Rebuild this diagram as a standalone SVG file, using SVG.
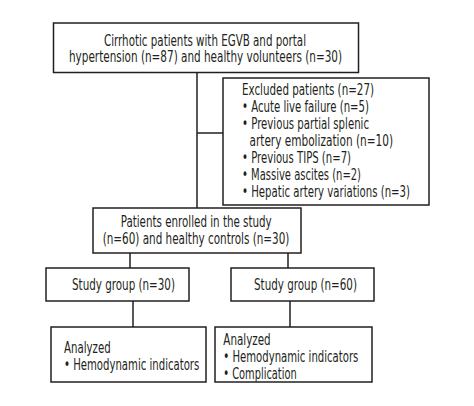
<svg xmlns="http://www.w3.org/2000/svg" width="474" height="406" viewBox="0 0 474 406">
<style>
.box{fill:#fff;stroke:#231f20;stroke-width:1.5}
.ln{fill:none;stroke:#231f20;stroke-width:1.5}
text{font-family:"Liberation Sans Narrow","DejaVu Sans Condensed","Liberation Sans",sans-serif;font-size:15.5px;fill:#231f20}
</style>
<rect width="474" height="406" fill="#fff"/>
<g id="connectors">
<path class="ln" d="M197 72.5V208"/>
<path class="ln" d="M197 133H223"/>
<path class="ln" d="M130 253V268"/>
<path class="ln" d="M288 253V268"/>
<path class="ln" d="M133 301V327"/>
<path class="ln" d="M290 301V327"/>
</g>
<g id="top">
<rect class="box" x="53.5" y="23" width="305" height="49.5"/>
<text x="104" y="45.5" textLength="202" lengthAdjust="spacingAndGlyphs">Cirrhotic patients with EGVB and portal</text>
<text x="69" y="62" textLength="273" lengthAdjust="spacingAndGlyphs">hypertension (n=87) and healthy volunteers (n=30)</text>
</g>
<g id="excluded">
<rect class="box" x="223" y="78" width="206" height="127"/>
<text x="242" y="95" textLength="132" lengthAdjust="spacingAndGlyphs">Excluded patients (n=27)</text>
<text x="242" y="112" textLength="127" lengthAdjust="spacingAndGlyphs">• Acute live failure (n=5)</text>
<text x="242" y="129" textLength="127" lengthAdjust="spacingAndGlyphs">• Previous partial splenic</text>
<text x="249.5" y="146" textLength="143.5" lengthAdjust="spacingAndGlyphs">artery embolization (n=10)</text>
<text x="242" y="163" textLength="109" lengthAdjust="spacingAndGlyphs">• Previous TIPS (n=7)</text>
<text x="242" y="180" textLength="119" lengthAdjust="spacingAndGlyphs">• Massive ascites (n=2)</text>
<text x="242" y="197" textLength="168" lengthAdjust="spacingAndGlyphs">• Hepatic artery variations (n=3)</text>
</g>
<g id="enrolled">
<rect class="box" x="93" y="208" width="208" height="45"/>
<text x="120.7" y="227" textLength="151" lengthAdjust="spacingAndGlyphs">Patients enrolled in the study</text>
<text x="102.7" y="243.5" textLength="186.7" lengthAdjust="spacingAndGlyphs">(n=60) and healthy controls (n=30)</text>
</g>
<g id="study30">
<rect class="box" x="46" y="268" width="143" height="33"/>
<text x="72" y="290" textLength="103" lengthAdjust="spacingAndGlyphs">Study group (n=30)</text>
</g>
<g id="study60">
<rect class="box" x="231" y="268" width="143" height="33"/>
<text x="254" y="290" textLength="103" lengthAdjust="spacingAndGlyphs">Study group (n=60)</text>
</g>
<g id="analyzed30">
<rect class="box" x="51" y="327" width="155" height="55"/>
<text x="64" y="353" textLength="46.7" lengthAdjust="spacingAndGlyphs">Analyzed</text>
<text x="64" y="370" textLength="135.3" lengthAdjust="spacingAndGlyphs">• Hemodynamic indicators</text>
</g>
<g id="analyzed60">
<rect class="box" x="215" y="327" width="157" height="55"/>
<text x="223.3" y="344.5" textLength="47.4" lengthAdjust="spacingAndGlyphs">Analyzed</text>
<text x="223.3" y="361.5" textLength="135" lengthAdjust="spacingAndGlyphs">• Hemodynamic indicators</text>
<text x="223.3" y="378.5" textLength="73.4" lengthAdjust="spacingAndGlyphs">• Complication</text>
</g>
</svg>
